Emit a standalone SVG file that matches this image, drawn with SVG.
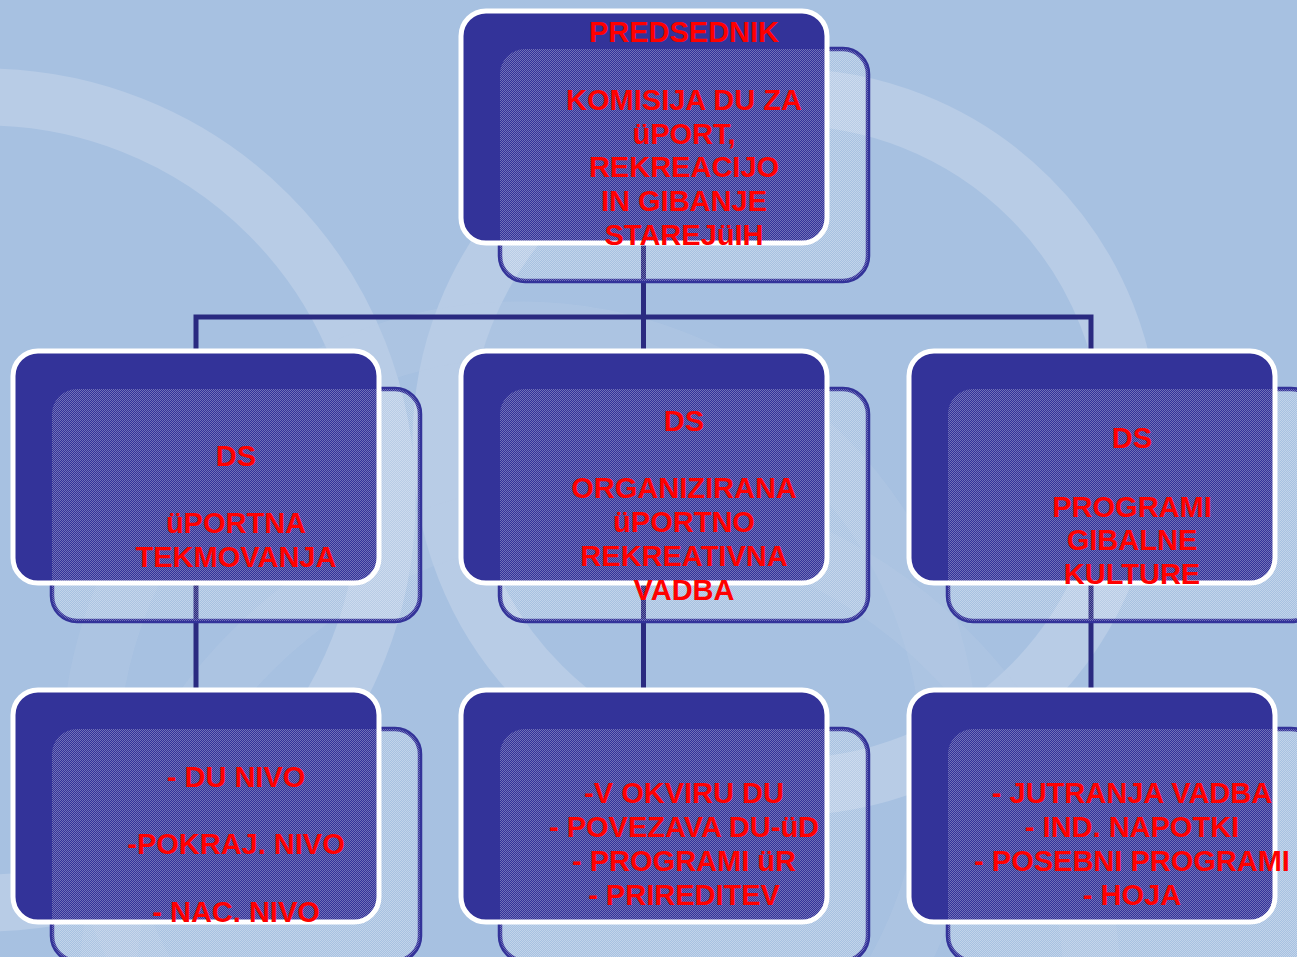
<svg xmlns="http://www.w3.org/2000/svg" width="1297" height="957" viewBox="0 0 1297 957">
<defs>
<pattern id="dots" width="2" height="2" patternUnits="userSpaceOnUse">
<rect x="0" y="0" width="1" height="1" fill="#ffffff" fill-opacity="0.3"/>
<rect x="1" y="1" width="1" height="1" fill="#ffffff" fill-opacity="0.3"/>
</pattern>
<style>
.ring{fill:none;stroke:#b8cce6;stroke-width:57}
.back{fill:none;stroke:#333399;stroke-width:4.5}
.front{fill:#333399;stroke:#ffffff;stroke-width:5}
.over{fill:url(#dots);stroke:none}
.con{fill:none;stroke:#2a2a80;stroke-width:5}
.t{font-family:"Liberation Sans",Arial,sans-serif;font-weight:bold;font-size:29px;fill:#ff0000;text-anchor:middle}
</style>
</defs>
<g id="background">
<rect width="1297" height="957" fill="#a7c1e1"/>
<circle class="ring" cx="-16" cy="500" r="403"/>
<circle class="ring" cx="786" cy="442" r="345"/>
<circle class="ring" cx="520" cy="760" r="430" stroke-opacity="0.35"/>
<circle class="ring" cx="600" cy="1000" r="493" stroke-opacity="0.35"/>
</g>
<g id="connectors">
<line class="con" x1="643.5" y1="240" x2="643.5" y2="317"/>
<path class="con" d="M196 350 V317 H1091 V350"/>
<line class="con" x1="643.5" y1="317" x2="643.5" y2="350"/>
<line class="con" x1="196" y1="580" x2="196" y2="690"/>
<line class="con" x1="643.5" y1="580" x2="643.5" y2="690"/>
<line class="con" x1="1091" y1="580" x2="1091" y2="690"/>
</g>
<g id="node-top">
<rect class="back" x="500" y="49" width="368" height="232" rx="25"/>
<rect class="front" x="461" y="11" width="366" height="232" rx="25"/>
<rect class="over" x="500" y="49" width="368" height="232" rx="25"/>
<text class="t" x="684" y="42">PREDSEDNIK</text>
<text class="t" x="684" y="110">KOMISIJA DU ZA</text>
<text class="t" x="684" y="144">üPORT,</text>
<text class="t" x="684" y="177">REKREACIJO</text>
<text class="t" x="684" y="211">IN GIBANJE</text>
<text class="t" x="684" y="245">STAREJüIH</text>
</g>
<g id="node-mid-left">
<rect class="back" x="52" y="389" width="368" height="232" rx="25"/>
<rect class="front" x="13" y="351" width="366" height="232" rx="25"/>
<rect class="over" x="52" y="389" width="368" height="232" rx="25"/>
<text class="t" x="236" y="466">DS</text>
<text class="t" x="236" y="533">üPORTNA</text>
<text class="t" x="236" y="567">TEKMOVANJA</text>
</g>
<g id="node-mid-center">
<rect class="back" x="500" y="389" width="368" height="232" rx="25"/>
<rect class="front" x="461" y="351" width="366" height="232" rx="25"/>
<rect class="over" x="500" y="389" width="368" height="232" rx="25"/>
<text class="t" x="684" y="431">DS</text>
<text class="t" x="684" y="498">ORGANIZIRANA</text>
<text class="t" x="684" y="532">üPORTNO</text>
<text class="t" x="684" y="566">REKREATIVNA</text>
<text class="t" x="684" y="600">VADBA</text>
</g>
<g id="node-mid-right">
<rect class="back" x="948" y="389" width="368" height="232" rx="25"/>
<rect class="front" x="909" y="351" width="366" height="232" rx="25"/>
<rect class="over" x="948" y="389" width="368" height="232" rx="25"/>
<text class="t" x="1132" y="448">DS</text>
<text class="t" x="1132" y="517">PROGRAMI</text>
<text class="t" x="1132" y="550">GIBALNE</text>
<text class="t" x="1132" y="584">KULTURE</text>
</g>
<g id="node-bottom-left">
<rect class="back" x="52" y="729" width="368" height="232" rx="25"/>
<rect class="front" x="13" y="690" width="366" height="232" rx="25"/>
<rect class="over" x="52" y="729" width="368" height="232" rx="25"/>
<text class="t" x="236" y="787">- DU NIVO</text>
<text class="t" x="236" y="854">-POKRAJ. NIVO</text>
<text class="t" x="236" y="922">- NAC. NIVO</text>
</g>
<g id="node-bottom-center">
<rect class="back" x="500" y="729" width="368" height="232" rx="25"/>
<rect class="front" x="461" y="690" width="366" height="232" rx="25"/>
<rect class="over" x="500" y="729" width="368" height="232" rx="25"/>
<text class="t" x="684" y="803">-V OKVIRU DU</text>
<text class="t" x="684" y="837">- POVEZAVA DU-üD</text>
<text class="t" x="684" y="871">- PROGRAMI üR</text>
<text class="t" x="684" y="905">- PRIREDITEV</text>
</g>
<g id="node-bottom-right">
<rect class="back" x="948" y="729" width="368" height="232" rx="25"/>
<rect class="front" x="909" y="690" width="366" height="232" rx="25"/>
<rect class="over" x="948" y="729" width="368" height="232" rx="25"/>
<text class="t" x="1132" y="803">- JUTRANJA VADBA</text>
<text class="t" x="1132" y="837">- IND. NAPOTKI</text>
<text class="t" x="1132" y="871">- POSEBNI PROGRAMI</text>
<text class="t" x="1132" y="905">- HOJA</text>
</g>
</svg>
